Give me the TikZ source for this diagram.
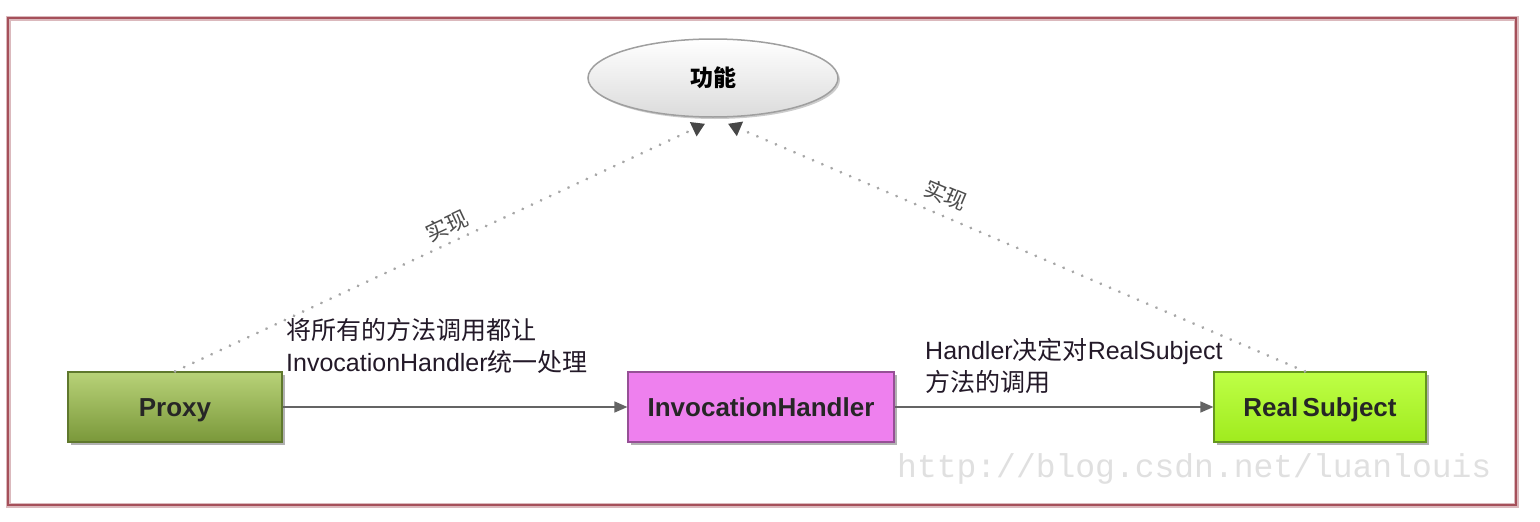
\documentclass[tikz,border=0pt]{standalone}
\usepackage{fontspec}
\setmainfont{Liberation Sans}
\newfontfamily\cjk{Noto Sans CJK SC}
\newfontfamily\wmfont{Liberation Mono}
\usetikzlibrary{arrows.meta,shapes.geometric,shadows}
\definecolor{framecol}{RGB}{165,80,90}
\definecolor{proxytop}{RGB}{184,210,120}
\definecolor{proxybot}{RGB}{122,152,58}
\definecolor{proxyline}{RGB}{95,120,45}
\definecolor{ihfill}{RGB}{238,128,238}
\definecolor{ihline}{RGB}{150,80,150}
\definecolor{rstop}{RGB}{190,255,70}
\definecolor{rsbot}{RGB}{160,235,30}
\definecolor{rsline}{RGB}{100,150,30}
\definecolor{conn}{RGB}{100,100,100}
\definecolor{txt}{RGB}{35,25,40}
\begin{document}
\begin{tikzpicture}[x=1pt,y=-1pt,
  box/.style={draw, line width=1.2pt, minimum height=70pt, inner sep=0pt,
    text height=19pt, text depth=0pt,
    font=\fontsize{26}{30}\selectfont\bfseries, text=black!85,
    drop shadow={shadow xshift=3pt, shadow yshift=-3pt, opacity=0.3, fill=black}},
  conline/.style={draw=conn, line width=1.5pt, -{Triangle[length=13pt,width=11pt]}},
  dotline/.style={draw=gray!70, line width=3pt, line cap=round, dash pattern=on 0.1pt off 10pt,
    -{Triangle[length=13pt,width=15pt,color=black!72,fill=black!72]}},
  elabel/.style={align=left, inner sep=0pt, text=txt,
    font=\fontsize{25}{32}\selectfont},
  implabel/.style={inner sep=0pt, text=black!70, font=\cjk\fontsize{22}{24}\selectfont}
]
\useasboundingbox (0,0) rectangle (1540,522);
\fill[white] (0,0) rectangle (1540,522);
% frame
\draw[framecol!40, line width=5pt] (8,18) rectangle (1516,505);
\draw[framecol, line width=2pt] (8,18) rectangle (1516,505);

% ellipse
\node[ellipse, draw=gray!75, line width=1.5pt, top color=white, bottom color=gray!28,
  minimum width=250pt, minimum height=78pt, inner sep=0pt,
  font=\cjk\fontsize{23}{26}\selectfont\bfseries,
  drop shadow={shadow xshift=2pt, shadow yshift=-2pt, opacity=0.2, fill=black}] (func) at (713,78) {功能};

% boxes
\node[box, draw=proxyline, top color=proxytop, bottom color=proxybot, minimum width=214pt] (proxy) at (175,407) {Proxy};
\node[box, draw=ihline, fill=ihfill, minimum width=266pt] (ih) at (761,407) {InvocationHandler};
\node[box, draw=rsline, top color=rstop, bottom color=rsbot, minimum width=212pt] (rs) at (1320,407) {Real\,Subject};

% connectors
\draw[conline] (proxy.east) -- (ih.west);
\draw[conline] (ih.east) -- (rs.west);

% dotted realization lines
\coordinate (p0) at ([xshift=0pt]proxy.north);
\coordinate (r0) at ([xshift=-15pt]rs.north);
\draw[dotline] (p0) -- ([xshift=-8pt,yshift=-6pt]func.south);
\draw[dotline] (r0) -- ([xshift=15pt,yshift=-6pt]func.south);

\node[implabel, rotate=25] (imp1) at (447,226) {实现};
\node[implabel, rotate=-23] (imp2) at (946,195) {实现};

% edge labels
\node[elabel, anchor=north west] (lab1) at (286,318) {{\cjk 将所有的方法调用都让}\\InvocationHandler{\cjk 统一处理}};
\node[elabel, anchor=north west] (lab2) at (925,338) {Handler{\cjk 决定对}RealSubject\\{\cjk 方法的调用}};

% watermark
\node[anchor=west, inner sep=0pt, text=gray!24, font=\wmfont\fontsize{33}{36}\selectfont] (wm) at (897,469) {http://blog.csdn.net/luanlouis};
\end{tikzpicture}
\end{document}
